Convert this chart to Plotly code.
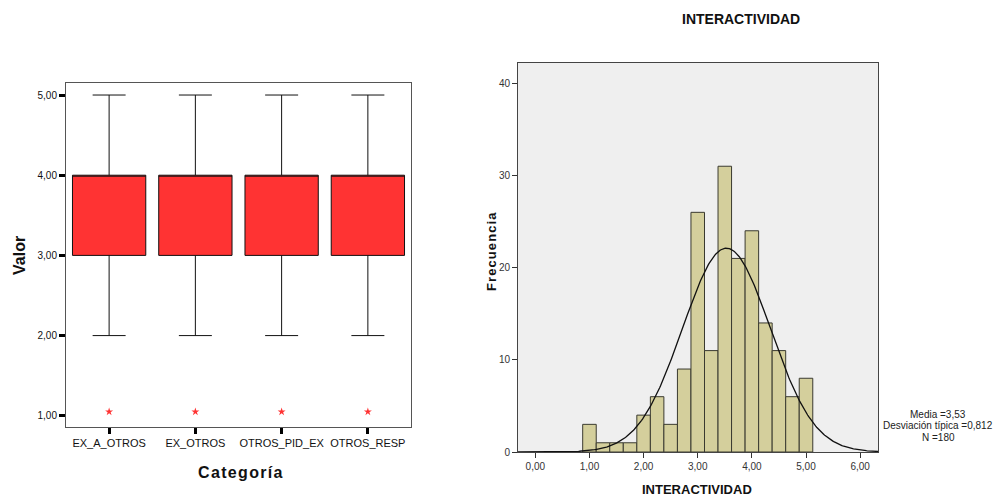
import numpy as np
import plotly.graph_objects as go

# ---- Left: box plot data ----
categories = ["EX_A_OTROS", "EX_OTROS", "OTROS_PID_EX", "OTROS_RESP"]
box_lower = [2.0, 2.0, 2.0, 2.0]
box_q1 = [3.0, 3.0, 3.0, 3.0]
box_median = [4.0, 4.0, 4.0, 4.0]
box_q3 = [4.0, 4.0, 4.0, 4.0]
box_upper = [5.0, 5.0, 5.0, 5.0]
outlier_values = [1.05, 1.05, 1.05, 1.05]
box_ytick_vals = [1, 2, 3, 4, 5]
box_ytick_text = ["1,00", "2,00", "3,00", "4,00", "5,00"]

# ---- Right: histogram data ----
bin_centers = [1.0, 1.25, 1.5, 1.75, 2.0, 2.25, 2.5, 2.75, 3.0, 3.25,
               3.5, 3.75, 4.0, 4.25, 4.5, 4.75, 5.0]
bin_counts = [3, 1, 1, 1, 4, 6, 3, 9, 26, 11, 31, 21, 24, 14, 11, 6, 8]
bin_width = 0.25
hist_mean = 3.53
hist_sd = 0.812
hist_n = 180
hist_xtick_vals = [0, 1, 2, 3, 4, 5, 6]
hist_xtick_text = ["0,00", "1,00", "2,00", "3,00", "4,00", "5,00", "6,00"]
hist_ytick_vals = [0, 10, 20, 30, 40]
hist_ytick_text = ["0", "10", "20", "30", "40"]
stats_lines = ["Media =3,53", "Desviación típica =0,812", "N =180"]

W, REF_H, FIG_H = 997, 497, 503
def px_x(p): return p / W
def px_y(p): return (REF_H - p) / REF_H

L_X0, L_X1, L_Y0, L_Y1 = 66, 411, 83, 427
R_X0, R_X1, R_Y0, R_Y1 = 518, 878, 63, 452
R_XRANGE = [-0.32, 6.33]

SANS = "Liberation Sans, Arial, sans-serif"
NARROW = "Liberation Sans Narrow, Arial Narrow, Liberation Sans, Arial, sans-serif"
HS = "\u200a"

fig = go.Figure()

fig.add_trace(go.Box(
    x=categories, q1=box_q1, median=box_median, q3=box_q3,
    lowerfence=box_lower, upperfence=box_upper,
    fillcolor="#FF3333", line=dict(color="#111111", width=1),
    width=0.85, whiskerwidth=0.45, boxpoints=False,
    xaxis="x", yaxis="y", showlegend=False, hoverinfo="skip"))

fig.add_trace(go.Scatter(
    x=categories, y=outlier_values, mode="markers",
    marker=dict(symbol="star", size=6, color="#FF3333"),
    xaxis="x", yaxis="y", showlegend=False, hoverinfo="skip"))

fig.add_trace(go.Bar(
    x=bin_centers, y=bin_counts, width=bin_width,
    marker=dict(color="#D4CF9C", line=dict(color="#3a3a30", width=1)),
    xaxis="x2", yaxis="y2", showlegend=False, hoverinfo="skip"))

curve_x = np.linspace(R_XRANGE[0], R_XRANGE[1], 400)
curve_y = hist_n * bin_width / (hist_sd * np.sqrt(2 * np.pi)) * \
    np.exp(-0.5 * ((curve_x - hist_mean) / hist_sd) ** 2)
fig.add_trace(go.Scatter(
    x=curve_x, y=curve_y, mode="lines",
    line=dict(color="#111111", width=1.3),
    xaxis="x2", yaxis="y2", showlegend=False, hoverinfo="skip"))

def ann(text, x, y, size, family, angle=0, color="#111111"):
    return dict(text=text, xref="paper", yref="paper", x=px_x(x), y=px_y(y),
                xanchor="center", yanchor="middle", showarrow=False,
                textangle=angle, align="center",
                font=dict(size=size, family=family, color=color))

def spaced(word):
    return HS.join(list(word))

annotations = [
    ann("<b>Valor</b>", 19, 256, 16, SANS, angle=-90),
    ann("<b>" + spaced("Categoría") + "</b>", 240, 472, 16, SANS),
    ann("<b>INTERACTIVIDAD</b>", 741, 19, 14, NARROW),
    ann("<b>INTERACTIVIDAD</b>", 697, 489, 13, NARROW),
    ann("<b>" + spaced("Frecuencia") + "</b>", 491, 252, 13, SANS, angle=-90),
]
for i, line in enumerate(stats_lines):
    annotations.append(ann(line, 938, 414.5 + 11.4 * i, 10, NARROW, color="#222222"))

fig.update_layout(
    width=W, height=FIG_H,
    margin=dict(l=0, r=0, t=0, b=0),
    paper_bgcolor="white", plot_bgcolor="white",
    font=dict(family=SANS, color="#111111"),
    xaxis=dict(
        domain=[px_x(L_X0), px_x(L_X1)], anchor="y",
        type="category", range=[-0.5, 3.5],
        showgrid=False, zeroline=False,
        showline=True, mirror=True, linecolor="#555555", linewidth=1,
        ticks="outside", ticklen=6, tickwidth=3, tickcolor="black",
        tickangle=0,
        tickfont=dict(size=11, family=SANS, color="#111111")),
    yaxis=dict(
        domain=[px_y(L_Y1), px_y(L_Y0)], anchor="x",
        range=[0.86, 5.15], showgrid=False, zeroline=False,
        showline=True, mirror=True, linecolor="#555555", linewidth=1,
        tickvals=box_ytick_vals, ticktext=box_ytick_text,
        ticks="outside", ticklen=6, tickwidth=3, tickcolor="black",
        tickfont=dict(size=10, family=SANS, color="#111111")),
    xaxis2=dict(
        domain=[px_x(R_X0), px_x(R_X1)], anchor="y2",
        range=R_XRANGE, showgrid=False, zeroline=False,
        showline=True, mirror=True, linecolor="#444444", linewidth=1,
        tickvals=hist_xtick_vals, ticktext=hist_xtick_text,
        ticks="outside", ticklen=5, tickwidth=1, tickcolor="#333333",
        tickangle=0,
        tickfont=dict(size=10, family=NARROW, color="#333333")),
    yaxis2=dict(
        domain=[px_y(R_Y1), px_y(R_Y0)], anchor="x2",
        range=[0, 42.2], showgrid=False, zeroline=False,
        showline=True, mirror=True, linecolor="#444444", linewidth=1,
        tickvals=hist_ytick_vals, ticktext=hist_ytick_text,
        ticks="outside", ticklen=5, tickwidth=1, tickcolor="#333333",
        tickfont=dict(size=10, family=NARROW, color="#333333")),
    shapes=[dict(type="rect", xref="paper", yref="paper",
                 x0=px_x(R_X0), x1=px_x(R_X1), y0=px_y(R_Y1), y1=px_y(R_Y0),
                 fillcolor="#EFEFEF", line=dict(width=0), layer="below")],
    annotations=annotations,
)

fig.write_html(
    "out.html",
    config={"displayModeBar": False},
    post_script="document.body.style.margin='0';document.body.style.overflow='hidden';",
)
